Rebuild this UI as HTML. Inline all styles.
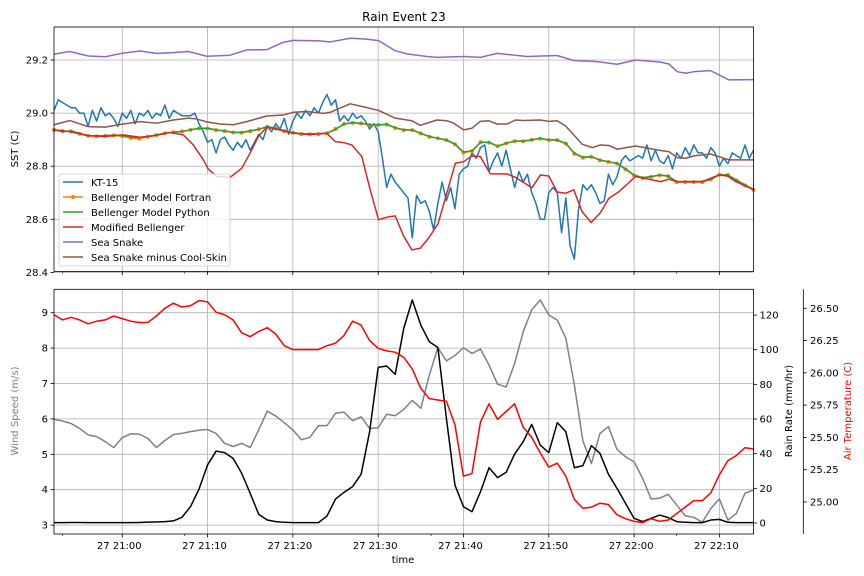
<!DOCTYPE html>
<html><head><meta charset="utf-8"><style>
html,body{margin:0;padding:0;background:#fff;}
svg{display:block;font-family:"DejaVu Sans","Liberation Sans",sans-serif;}
</style></head><body>
<svg id="chart" width="864" height="576" viewBox="0 0 864 576" xmlns="http://www.w3.org/2000/svg">
<rect width="864" height="576" fill="#fff"/>
<text x="404" y="21" font-size="12" text-anchor="middle">Rain Event 23</text>
<g id="gtop"></g><g id="gbot"></g>
</svg>
<script>
// ---- data ----
const minuteTicks=[0,10,20,30,40,50,60,70];
const minuteTickLabels=["27 21:00","27 21:10","27 21:20","27 21:30","27 21:40","27 21:50","27 22:00","27 22:10"];
const sstTicks=[28.4,28.6,28.8,29.0,29.2];
const windTicks=[3,4,5,6,7,8,9];
const rainTicks=[0,20,40,60,80,100,120];
const airTicks=[25.0,25.25,25.5,25.75,26.0,26.25,26.5];
const kt15Start=-8, kt15Step=0.5;
const kt15=[29.01,29.05,29.04,29.03,29.02,29.02,29.00,29.00,28.95,29.01,
28.97,29.02,28.99,29.00,28.98,28.95,29.00,28.98,29.01,28.96,
29.00,28.99,29.01,28.98,29.00,28.99,29.03,28.98,29.01,29.00,
28.99,28.99,28.99,29.00,28.96,28.93,28.89,28.90,28.85,28.90,
28.91,28.88,28.86,28.89,28.87,28.90,28.86,28.89,28.92,28.90,
28.95,28.93,28.96,28.94,28.98,28.92,28.97,29.00,28.98,29.01,
28.99,29.02,29.00,29.04,29.07,29.03,29.05,28.97,28.99,28.97,
29.00,28.98,28.99,28.97,28.94,28.96,28.93,28.83,28.72,28.77,
28.74,28.72,
28.70,28.68,28.53,28.69,28.66,28.67,28.63,28.56,28.66,28.74,
28.67,28.72,28.64,28.77,28.79,28.80,28.85,28.83,28.87,28.88,
28.78,28.82,28.85,28.80,28.86,28.79,28.72,28.78,28.74,28.77,
28.70,28.66,28.60,28.60,28.70,28.72,28.70,28.55,28.68,28.50,
28.45,28.64,28.73,28.71,28.73,28.70,28.66,28.67,28.77,28.73,
28.76,28.82,28.84,28.82,28.83,28.84,28.83,28.88,28.82,28.86,
28.82,28.81,28.84,28.79,28.85,28.83,28.87,28.84,28.88,28.85,
28.85,28.83,28.87,28.85,28.80,28.83,28.81,28.85,28.84,28.83,
28.88,28.83,28.86];
const minuteStart=-8;
const bellPython=[28.937,28.930,28.933,28.924,28.915,28.914,28.915,28.917,28.915,28.909,28.908,28.912,28.918,28.924,28.928,28.930,28.937,28.943,28.943,28.937,28.933,28.928,28.928,28.933,28.939,28.949,28.943,28.933,28.927,28.922,28.922,28.922,28.924,28.939,28.959,28.964,28.962,28.956,28.956,28.958,28.945,28.937,28.937,28.924,28.912,28.905,
28.899,28.884,28.853,28.858,28.890,28.890,28.876,28.886,28.895,28.895,28.899,28.905,28.899,28.899,28.886,28.849,28.834,28.836,28.824,28.817,28.811,28.790,28.767,28.757,28.761,28.767,28.763,28.742,28.742,28.742,28.742,28.751,28.767,28.767,28.748,28.730,28.713];
const bellFortran=[28.937,28.932,28.931,28.922,28.914,28.913,28.914,28.916,28.913,28.906,28.904,28.911,28.917,28.924,28.928,28.931,28.937,28.942,28.942,28.936,28.932,28.927,28.926,28.932,28.939,28.948,28.942,28.932,28.926,28.921,28.920,28.921,28.924,28.940,28.959,28.963,28.961,28.955,28.955,28.957,28.944,28.936,28.936,28.923,28.911,28.905,
28.898,28.882,28.851,28.857,28.890,28.889,28.875,28.886,28.894,28.894,28.899,28.904,28.898,28.898,28.885,28.847,28.832,28.835,28.822,28.816,28.810,28.788,28.765,28.755,28.760,28.766,28.762,28.740,28.740,28.740,28.740,28.750,28.768,28.767,28.746,28.728,28.711];
const modT=[-7.98,-6.14,-3.99,-2.03,0.12,2.07,3.64,5.59,7.16,8.33,9.51,10.09,11.07,12.64,14.01,14.98,15.96,16.94,18.11,20.07,22.03,23.98,24.96,25.94,26.92,28.09,29.07,30.05,31.03,32.00,32.98,33.96,34.94,35.92,37.02,39.05,40.02,41.00,41.98,43.15,45.11,46.09,48.04,49.02,50.00,50.98,51.96,52.93,53.91,54.97,56.06,57.04,58.22,60.17,63.11,64.08,65.06,68.00,69.95,70.93,71.91,74.06];
const modV=[28.937,28.930,28.915,28.912,28.918,28.909,28.914,28.927,28.918,28.880,28.824,28.789,28.761,28.758,28.792,28.849,28.912,28.947,28.939,28.924,28.920,28.924,28.893,28.889,28.880,28.836,28.711,28.598,28.608,28.613,28.537,28.485,28.491,28.529,28.583,28.811,28.817,28.839,28.836,28.771,28.771,28.758,28.719,28.767,28.763,28.703,28.698,28.711,28.629,28.588,28.625,28.679,28.704,28.761,28.742,28.751,28.742,28.742,28.767,28.763,28.742,28.711];
const snakeT=[-7.98,-6.14,-3.99,-2.03,-0.08,2.07,4.03,5.99,7.75,9.90,12.64,14.59,16.94,18.90,20.07,23.20,24.37,26.72,28.48,30.05,32.00,33.37,35.72,36.89,40.02,41.98,43.94,47.46,50.98,52.93,55.67,58.02,60.17,63.11,64.08,65.06,66.04,67.02,68.97,71.13,74.06];
const snakeV=[29.222,29.232,29.215,29.212,29.225,29.234,29.225,29.228,29.232,29.214,29.218,29.238,29.239,29.267,29.274,29.272,29.268,29.282,29.279,29.273,29.235,29.223,29.213,29.210,29.213,29.210,29.225,29.213,29.217,29.198,29.194,29.184,29.200,29.192,29.185,29.156,29.150,29.156,29.160,29.125,29.126];
const skinT=[-7.98,-6.14,-3.99,-2.03,-0.08,2.07,4.03,5.99,7.75,8.72,9.90,11.46,13.03,14.59,16.94,18.90,20.07,21.64,23.59,24.37,26.72,28.48,30.05,32.00,33.96,34.94,36.89,38.07,38.85,40.02,41.00,41.98,42.96,43.94,45.11,46.09,47.07,49.02,50.00,50.98,51.96,52.93,53.91,55.09,56.06,57.04,58.02,60.17,63.11,64.08,65.06,66.04,67.02,68.97,71.13,74.06];
const skinV=[28.956,28.972,28.949,28.947,28.958,28.968,28.962,28.974,28.981,28.978,28.967,28.959,28.956,28.968,28.989,28.993,29.003,29.006,28.999,29.003,29.035,29.022,29.010,28.981,28.971,28.954,28.974,28.971,28.962,28.937,28.943,28.969,28.971,28.959,28.959,28.974,28.972,28.974,28.969,28.971,28.952,28.918,28.883,28.870,28.880,28.878,28.864,28.876,28.859,28.855,28.832,28.830,28.839,28.846,28.824,28.824];
const windSpeed=[5.99,5.94,5.87,5.73,5.55,5.50,5.36,5.19,5.47,5.58,5.57,5.45,5.19,5.39,5.56,5.59,5.64,5.68,5.70,5.59,5.31,5.22,5.31,5.19,5.69,6.22,6.08,5.89,5.69,5.41,5.48,5.81,5.81,6.16,6.19,5.95,6.06,5.73,5.75,6.13,6.09,6.27,6.52,6.30,7.24,8.01,
7.64,7.79,8.01,7.85,7.97,7.52,6.98,6.90,7.57,8.46,9.08,9.36,8.94,8.79,8.28,6.96,5.38,4.74,5.59,5.78,5.14,4.93,4.79,4.32,3.74,3.76,3.87,3.57,3.26,3.22,3.08,3.47,3.74,3.14,3.33,3.90,3.99];
const rainRate=[0.2,0.2,0.3,0.3,0.2,0.2,0.2,0.2,0.2,0.2,0.3,0.5,0.6,0.8,1.2,3.3,9.4,19.6,33.5,41.5,40.6,37.3,28.7,17.1,5.0,1.7,0.8,0.4,0.2,0.2,0.2,0.2,4.0,13.8,17.7,21.0,28.1,52.7,89.8,90.6,85.8,112.3,128.7,114.2,104.6,101.3,60.4,21.9,9.4,6.5,18.1,31.9,26.2,29.2,39.8,46.9,56.9,45.0,40.6,57.9,52.7,31.9,33.1,44.6,40.2,28.1,20.0,11.3,2.7,0.8,2.7,4.6,3.1,0.8,0.4,0.2,0.2,1.7,2.1,0.4,0.2,0.2,0.2];
const airTemp=[26.45,26.41,26.43,26.41,26.38,26.40,26.41,26.44,26.42,26.40,26.39,26.39,26.44,26.50,26.54,26.51,26.52,26.56,26.55,26.47,26.45,26.41,26.31,26.28,26.32,26.35,26.30,26.21,26.18,26.18,26.18,26.18,26.21,26.23,26.29,26.40,26.37,26.25,26.19,26.17,26.16,26.12,26.03,25.88,25.80,
25.79,25.78,25.60,25.20,25.22,25.62,25.76,25.64,25.70,25.76,25.58,25.50,25.38,25.27,25.30,25.20,25.02,24.95,24.96,24.99,24.98,24.90,24.87,24.85,24.84,24.87,24.85,24.86,24.91,24.96,25.01,25.01,25.07,25.21,25.32,25.36,25.42,25.41];

// ---- axes ----
const X0=54,X1=753.5,TMIN=-8,TMAX=74;
const xs=m=>X0+(m-TMIN)/(TMAX-TMIN)*(X1-X0);
const T0=27,T1=271.5; const ySST=v=>60+(29.2-v)*265.5;
const B0=289.3,B1=534;
const yWind=v=>312.7+(9-v)*35.4;
const yRain=v=>523-v*1.733;
const yAir=v=>308.3+(26.5-v)*129.1;
const NS="http://www.w3.org/2000/svg";
function mk(parent,tag,attrs){const e=document.createElementNS(NS,tag);for(const k in attrs)e.setAttribute(k,attrs[k]);parent.appendChild(e);return e;}
const gTop=document.getElementById('gtop'), gBot=document.getElementById('gbot');
function pathD(ts,vs,yf){return ts.map((t,i)=>(i?'L':'M')+xs(t).toFixed(2)+','+yf(vs[i]).toFixed(2)).join('');}
const minutes=windSpeed.map((_,i)=>minuteStart+i);
const ktT=kt15.map((_,i)=>kt15Start+i*kt15Step);

// grids
[[gTop,T0,T1],[gBot,B0,B1]].forEach(([g,a,b])=>{
  minuteTicks.forEach(m=>{const l=mk(g,'line',{x1:xs(m),x2:xs(m),y1:a,y2:b,stroke:'#b0b0b0','stroke-width':0.8});
  
  });
});
sstTicks.forEach(v=>{const y=ySST(v);
 const l=mk(gTop,'line',{x1:X0,x2:X1,y1:y,y2:y,stroke:'#b0b0b0','stroke-width':0.8});
 
 
 mk(gTop,'line',{x1:X0-3.5,x2:X0,y1:y,y2:y,stroke:'#000','stroke-width':0.8});
 const t=mk(gTop,'text',{x:X0-6,y:y+3.5,'font-size':10,'text-anchor':'end'});t.textContent=v.toFixed(1);
 
 });
windTicks.forEach(v=>{const y=yWind(v);
 const l=mk(gBot,'line',{x1:X0,x2:X1,y1:y,y2:y,stroke:'#b0b0b0','stroke-width':0.8});
 
 
 mk(gBot,'line',{x1:X0-3.5,x2:X0,y1:y,y2:y,stroke:'#000','stroke-width':0.8});
 const t=mk(gBot,'text',{x:X0-6,y:y+3.5,'font-size':10,'text-anchor':'end'});t.textContent=v;
 
 });
rainTicks.forEach(v=>{const y=yRain(v);
 mk(gBot,'line',{x1:X1,x2:X1+3.5,y1:y,y2:y,stroke:'#000','stroke-width':0.8});
 const t=mk(gBot,'text',{x:X1+6,y:y+3.5,'font-size':10});t.textContent=v;
 
 });
airTicks.forEach(v=>{const y=yAir(v);
 mk(gBot,'line',{x1:803.3,x2:806.8,y1:y,y2:y,stroke:'#000','stroke-width':0.8});
 const t=mk(gBot,'text',{x:810,y:y+3.5,'font-size':10});t.textContent=v.toFixed(2);
 
 });
minuteTicks.forEach((m,i)=>{const x=xs(m);
 mk(gTop,'line',{x1:x,x2:x,y1:T1,y2:T1+3.5,stroke:'#000','stroke-width':0.8});
 mk(gBot,'line',{x1:x,x2:x,y1:B1,y2:B1+3.5,stroke:'#000','stroke-width':0.8});
 const t=mk(gBot,'text',{x:x-3,y:549,'font-size':10,'text-anchor':'middle'});t.textContent=minuteTickLabels[i];
 
 });
[-7,7.3,36.2,65].forEach(m=>{const x=xs(m);
 mk(gTop,'line',{x1:x,x2:x,y1:T1,y2:T1+2,stroke:'#000','stroke-width':0.6});
 mk(gBot,'line',{x1:x,x2:x,y1:B1,y2:B1+2,stroke:'#000','stroke-width':0.6});});

// top series
function series(g,ts,vs,yf,color,name,w){const p=mk(g,'path',{d:pathD(ts,vs,yf),fill:'none',stroke:color,'stroke-width':w||1.5,'stroke-linejoin':'round'});
 
 return p;}
series(gTop,ktT,kt15,ySST,'#1f77b4','kt15-line');
series(gTop,minutes,bellFortran,ySST,'#ff7f0e','bellenger-fortran-line');
bellFortran.forEach((v,i)=>{const c=mk(gTop,'circle',{cx:xs(minutes[i]),cy:ySST(v),r:2,fill:'#ff7f0e'});
 
 });
series(gTop,minutes,bellPython,ySST,'#2ca02c','bellenger-python-line');
series(gTop,modT,modV,ySST,'#d62728','modified-bellenger-line');
series(gTop,snakeT,snakeV,ySST,'#9467bd','sea-snake-line');
series(gTop,skinT,skinV,ySST,'#8c564b','sea-snake-cool-skin-line');

// bottom series
series(gBot,minutes,windSpeed,yWind,'#808080','wind-speed-line');
series(gBot,minutes,rainRate,yRain,'#000000','rain-rate-line');
series(gBot,minutes,airTemp,yAir,'#ff0000','air-temperature-line');
</script>
<svg style="position:absolute;left:0;top:0" width="864" height="576" viewBox="0 0 864 576" xmlns="http://www.w3.org/2000/svg" font-family="DejaVu Sans, Liberation Sans, sans-serif">
<rect x="54" y="27" width="699.5" height="244.5" fill="none" stroke="#000" stroke-width="0.8"/>
<rect x="54" y="289.3" width="699.5" height="244.7" fill="none" stroke="#000" stroke-width="0.8"/>
<line x1="803.3" x2="803.3" y1="289.3" y2="534" stroke="#000" stroke-width="0.8"/>
<text transform="translate(18,149) rotate(-90)" font-size="10" text-anchor="middle">SST (C)</text>
<text transform="translate(18,411) rotate(-90)" font-size="10" text-anchor="middle" fill="#808080">Wind Speed (m/s)</text>
<text transform="translate(792,411) rotate(-90)" font-size="10" text-anchor="middle">Rain Rate (mm/hr)</text>
<text transform="translate(851,411) rotate(-90)" font-size="10" text-anchor="middle" fill="#ff0000">Air Temperature (C)</text>
<text x="403" y="563" font-size="10" text-anchor="middle">time</text>
<g>
<rect x="59" y="174" width="171" height="92" rx="2" fill="#fff" fill-opacity="0.8" stroke="#ccc" stroke-width="0.8"/>
<g><line x1="63" x2="83" y1="182" y2="182" stroke="#1f77b4" stroke-width="1.5"/><text x="91" y="186" font-size="10">KT-15</text></g>
<g><line x1="63" x2="83" y1="197" y2="197" stroke="#ff7f0e" stroke-width="1.5"/><circle cx="73" cy="197" r="2" fill="#ff7f0e"/><text x="91" y="201" font-size="10">Bellenger Model Fortran</text></g>
<g><line x1="63" x2="83" y1="212" y2="212" stroke="#2ca02c" stroke-width="1.5"/><text x="91" y="216" font-size="10">Bellenger Model Python</text></g>
<g><line x1="63" x2="83" y1="227" y2="227" stroke="#d62728" stroke-width="1.5"/><text x="91" y="231" font-size="10">Modified Bellenger</text></g>
<g><line x1="63" x2="83" y1="242" y2="242" stroke="#9467bd" stroke-width="1.5"/><text x="91" y="246" font-size="10">Sea Snake</text></g>
<g><line x1="63" x2="83" y1="257" y2="257" stroke="#8c564b" stroke-width="1.5"/><text x="91" y="261" font-size="10">Sea Snake minus Cool-Skin</text></g>
</g>
</svg>
</body></html>
